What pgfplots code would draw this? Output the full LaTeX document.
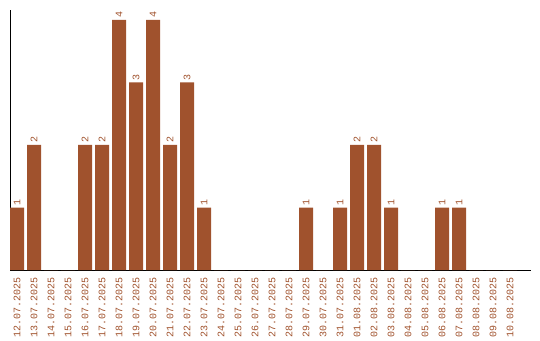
\documentclass[border=0pt]{standalone}
\usepackage{fontspec}
\setmainfont{Liberation Mono}
\usepackage{pgfplots}
\usepackage{pgfplotstable}
\pgfplotsset{compat=1.18}
\definecolor{bar}{HTML}{A0522D}
\pgfplotstableread{
x y lab
0 1 1
1 2 2
2 0 {}
3 0 {}
4 2 2
5 2 2
6 4 4
7 3 3
8 4 4
9 2 2
10 3 3
11 1 1
12 0 {}
13 0 {}
14 0 {}
15 0 {}
16 0 {}
17 1 1
18 0 {}
19 1 1
20 2 2
21 2 2
22 1 1
23 0 {}
24 0 {}
25 1 1
26 1 1
27 0 {}
28 0 {}
29 0 {}
}\datatable
\begin{document}
\begin{tikzpicture}[x=1pt,y=1pt]
\path[use as bounding box] (-10,-70) rectangle (530,270);
\begin{axis}[
  scale only axis, width=521pt, height=260pt,
  at={(0pt,0pt)}, anchor=south west,
  xmin=-0.41176, xmax=30.235, ymin=0, ymax=4.16,
  axis x line*=bottom, axis y line*=left,
  axis line style={-, line width=1pt, black},
  ytick=\empty,
  xtick={0,...,29},
  xticklabels={12.07.2025,13.07.2025,14.07.2025,15.07.2025,16.07.2025,17.07.2025,18.07.2025,19.07.2025,20.07.2025,21.07.2025,22.07.2025,23.07.2025,24.07.2025,25.07.2025,26.07.2025,27.07.2025,28.07.2025,29.07.2025,30.07.2025,31.07.2025,01.08.2025,02.08.2025,03.08.2025,04.08.2025,05.08.2025,06.08.2025,07.08.2025,08.08.2025,09.08.2025,10.08.2025},
  major tick length=0pt,
  xticklabel style={rotate=90, anchor=east, inner xsep=7pt, inner ysep=0pt, font=\fontsize{10}{11}\selectfont, text=bar},
  ybar, bar width=14pt,
  point meta=explicit symbolic,
  nodes near coords,
  nodes near coords style={rotate=90, anchor=west, inner xsep=2pt, inner ysep=0pt, font=\fontsize{10}{11}\selectfont, text=bar},
  clip=false,
]
\addplot[fill=bar, draw=none] table[x=x, y=y, meta=lab] {\datatable};
\end{axis}
\end{tikzpicture}
\end{document}
